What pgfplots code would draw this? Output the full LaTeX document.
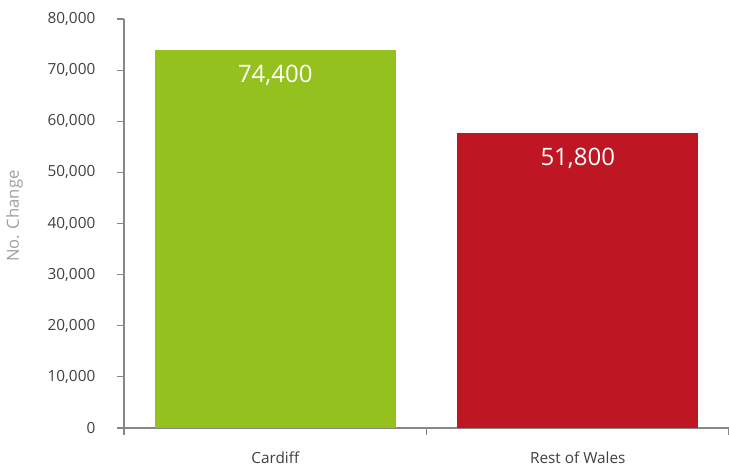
\documentclass[border=0pt]{standalone}
\usepackage{pgfplots}
\pgfplotsset{compat=1.18}
\usepackage{fontspec}
\setmainfont{Open Sans}
\definecolor{cgreen}{HTML}{95C11F}
\definecolor{cred}{HTML}{BE1622}
\definecolor{axgray}{HTML}{878787}
\definecolor{txt}{HTML}{404040}
\definecolor{lblgray}{HTML}{A0A0A0}
\begin{document}
\begin{tikzpicture}
\begin{axis}[
  scale only axis,
  width=453.75pt, height=306.75pt,
  xmin=-0.5, xmax=1.5,
  ymin=0, ymax=80000,
  axis x line=bottom, axis y line=left,
  axis line style={-, draw=axgray, line width=0.8pt},
  tick align=outside,
  xtick={0,1},
  xticklabels={Cardiff, Rest of Wales},
  minor xtick={-0.5,0.5,1.5},
  xtick style={draw=none},
  minor x tick style={draw=axgray, line width=0.8pt},
  minor tick length=5pt,
  major tick length=5pt,
  ytick={0,10000,20000,30000,40000,50000,60000,70000,80000},
  y tick style={draw=axgray, line width=0.8pt},
  scaled y ticks=false,
  /pgf/number format/.cd, 1000 sep={,}, assume math mode=true, /pgfplots/.cd,
  ticklabel style={font=\fontsize{11.5}{13}\selectfont, text=txt},
  yticklabel style={xshift=-13pt},
  xticklabel style={yshift=-9pt},
  ylabel={No. Change},
  every axis y label/.style={at={(rel axis cs:0,0.518)}, rotate=90, anchor=center, yshift=82pt, font=\fontsize{12.5}{14}\selectfont, text=lblgray},
  ybar, bar width=180.75pt, bar shift=0pt,
  enlarge x limits=false,
  nodes near coords,
  point meta=explicit symbolic,
  every node near coord/.append style={anchor=center, yshift=-19pt, text=white, font=\fontsize{18}{21}\selectfont},
  clip=false,
]
\addplot[fill=cgreen, draw=none] coordinates {(0,74000) [74,400]};
\addplot[fill=cred, draw=none] coordinates {(1,57700) [51,800]};
\coordinate (bl) at (rel axis cs:0,0);
\coordinate (tr) at (rel axis cs:1,1);
\end{axis}
\pgfresetboundingbox
\path ([xshift=-93pt,yshift=-29.25pt]bl) rectangle ([yshift=14.25pt]tr);
\end{tikzpicture}
\end{document}
